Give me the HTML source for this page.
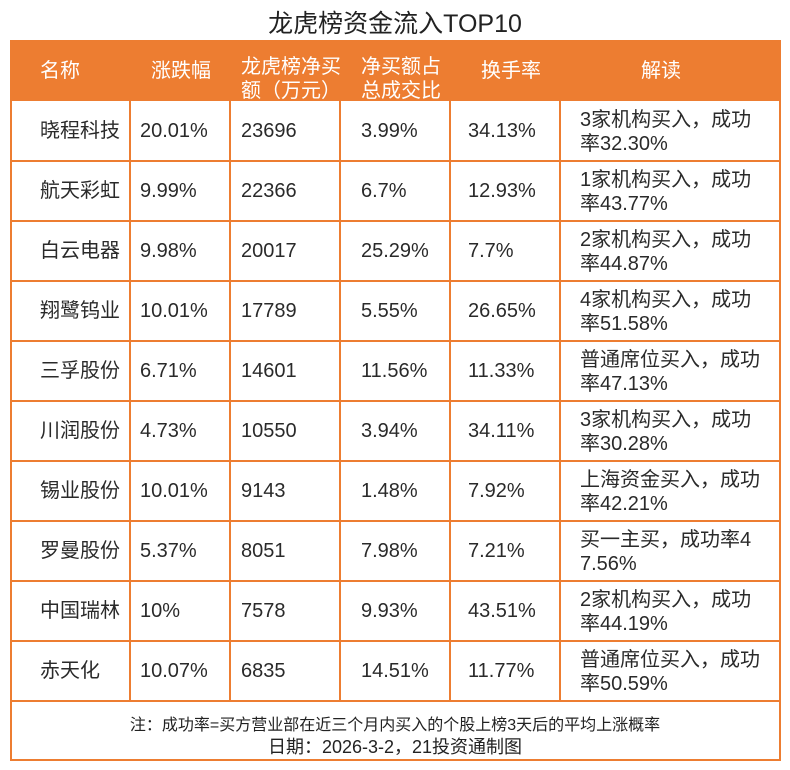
<!DOCTYPE html>
<html><head><meta charset="utf-8"><style>
body{margin:0;width:790px;height:770px;background:#fff;font-family:"Liberation Sans","Noto Sans CJK SC",sans-serif;position:relative;overflow:hidden}
.t{position:absolute;left:0;width:790px;top:4px;text-align:center;font-size:25px;color:#222}
.box{position:absolute;left:10px;top:40px;width:767px;height:717px;border:2px solid #ED7D31}
.hd{position:absolute;left:10px;top:40px;width:771px;height:61px;background:#ED7D31}
.c{position:absolute;font-size:20px;color:#2a2a2a;line-height:24px}
.h{position:absolute;font-size:20px;color:#fff;line-height:24px}
.vl{position:absolute;top:101px;height:600px;width:2px;background:#ED7D31}
.hl{position:absolute;left:10px;width:771px;height:2px;background:#ED7D31}
.n{position:absolute;width:790px;left:0;text-align:center;font-size:16px;color:#222}
</style></head><body>
<div class="t">龙虎榜资金流入TOP10</div>
<div class="box"></div>
<div class="hd"></div>
<div class="h" style="left:40px;top:59px">名称</div>
<div class="h" style="left:151px;top:59px">涨跌幅</div>
<div class="h" style="left:241px;top:55px">龙虎榜净买<br>额（万元）</div>
<div class="h" style="left:361px;top:55px">净买额占<br>总成交比</div>
<div class="h" style="left:481px;top:59px">换手率</div>
<div class="h" style="left:641px;top:59px">解读</div>
<div class="vl" style="left:129px"></div>
<div class="vl" style="left:229px"></div>
<div class="vl" style="left:339px"></div>
<div class="vl" style="left:449px"></div>
<div class="vl" style="left:559px"></div>
<div id="rows"></div>
<div class="n" style="top:711px">注：成功率=买方营业部在近三个月内买入的个股上榜3天后的平均上涨概率</div>
<div class="n" style="top:733px;font-size:18px">日期：2026-3-2，21投资通制图</div>
<script>
var d=[["晓程科技","20.01%","23696","3.99%","34.13%","3家机构买入，成功","率32.30%"],
["航天彩虹","9.99%","22366","6.7%","12.93%","1家机构买入，成功","率43.77%"],
["白云电器","9.98%","20017","25.29%","7.7%","2家机构买入，成功","率44.87%"],
["翔鹭钨业","10.01%","17789","5.55%","26.65%","4家机构买入，成功","率51.58%"],
["三孚股份","6.71%","14601","11.56%","11.33%","普通席位买入，成功","率47.13%"],
["川润股份","4.73%","10550","3.94%","34.11%","3家机构买入，成功","率30.28%"],
["锡业股份","10.01%","9143","1.48%","7.92%","上海资金买入，成功","率42.21%"],
["罗曼股份","5.37%","8051","7.98%","7.21%","买一主买，成功率4","7.56%"],
["中国瑞林","10%","7578","9.93%","43.51%","2家机构买入，成功","率44.19%"],
["赤天化","10.07%","6835","14.51%","11.77%","普通席位买入，成功","率50.59%"]];
var h="",xs=[40,140,241,361,468];
d.forEach(function(r,i){var y=101+i*60;
h+='<div class="hl" style="top:'+(y+59)+'px"></div>';
for(var j=0;j<5;j++)h+='<div class="c" style="left:'+xs[j]+'px;top:'+(y+18)+'px">'+r[j]+'</div>';
h+='<div class="c" style="left:580px;top:'+(y+7)+'px">'+r[5]+'<br>'+r[6]+'</div>';});
document.getElementById("rows").innerHTML=h;
</script>
</body></html>
